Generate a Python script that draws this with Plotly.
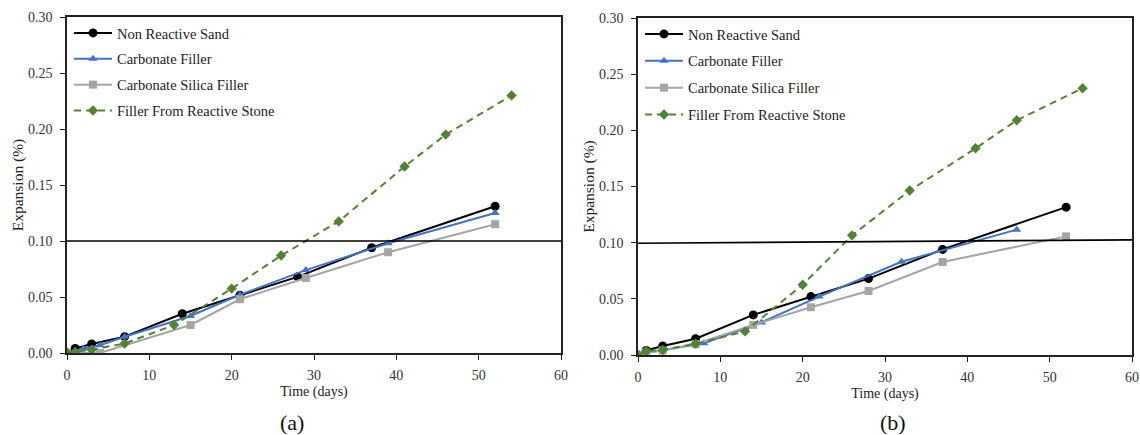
import plotly.graph_objects as go

# ---------------- data ----------------
series_names = ["Non Reactive Sand", "Carbonate Filler", "Carbonate Silica Filler",
                "Filler From Reactive Stone"]

# Panel (a)
a_sand_days = [0, 1, 3, 7, 14, 21, 28, 37, 52]
a_sand_exp = [0.000, 0.004, 0.008, 0.0146, 0.035, 0.0515, 0.068, 0.094, 0.131]
a_carb_days = [0, 2, 4, 7, 15, 21, 29, 39, 52]
a_carb_exp = [0.000, 0.004, 0.007, 0.0145, 0.033, 0.052, 0.074, 0.098, 0.125]
a_silica_days = [0, 4, 15, 21, 29, 39, 52]
a_silica_exp = [0.000, 0.000, 0.025, 0.048, 0.067, 0.090, 0.115]
a_stone_days = [0, 1, 3, 7, 13, 20, 26, 33, 41, 46, 54]
a_stone_exp = [0.000, 0.001, 0.003, 0.0085, 0.025, 0.0575, 0.087, 0.1175, 0.1665, 0.195, 0.230]

# Panel (b)
b_sand_days = [0, 1, 3, 7, 14, 21, 28, 37, 52]
b_sand_exp = [0.000, 0.004, 0.008, 0.0145, 0.0357, 0.052, 0.068, 0.094, 0.1316]
b_carb_days = [0, 1, 8, 15, 22, 32, 46]
b_carb_exp = [0.000, 0.002, 0.0104, 0.029, 0.052, 0.083, 0.1116]
b_silica_days = [0, 1, 3, 7, 14, 21, 28, 37, 52]
b_silica_exp = [0.000, 0.002, 0.004, 0.0098, 0.0268, 0.0425, 0.057, 0.0828, 0.1056]
b_stone_days = [0, 1, 3, 7, 13, 20, 26, 33, 41, 46, 54]
b_stone_exp = [0.000, 0.0035, 0.0045, 0.0100, 0.021, 0.0625, 0.1065, 0.1464, 0.184, 0.209, 0.2375]

limit_a = [0.100, 0.100]
limit_b = [0.0995, 0.1025]

panel_labels = ["(a)", "(b)"]
x_title = "Time (days)"
y_title = "Expansion (%)"

# ---------------- styles ----------------
FONT = "Liberation Serif"
colors = ["#000000", "#4472C4", "#A5A5A5", "#548235"]
symbols = ["circle", "triangle-up", "square", "diamond"]
dashes = ["solid", "solid", "solid", "7px,5px"]

fig = go.Figure()

panels = [
    ("x", "y", "legend", "a",
     [(a_sand_days, a_sand_exp), (a_carb_days, a_carb_exp),
      (a_silica_days, a_silica_exp), (a_stone_days, a_stone_exp)]),
    ("x2", "y2", "legend2", "b",
     [(b_sand_days, b_sand_exp), (b_carb_days, b_carb_exp),
      (b_silica_days, b_silica_exp), (b_stone_days, b_stone_exp)]),
]

for xa, ya, lg, tag, data in panels:
    for i, (d, e) in enumerate(data):
        fig.add_trace(go.Scatter(
            x=d, y=e, name=series_names[i], mode="lines+markers",
            xaxis=xa, yaxis=ya, legend=lg, legendgroup=f"{tag}{i}",
            line=dict(color=colors[i], width=2, dash=dashes[i]),
            marker=dict(color=colors[i], symbol=symbols[i], size=9 if i == 0 else 8),
        ))

# threshold lines at 0.10 %
fig.add_trace(go.Scatter(x=[0, 60], y=limit_a, mode="lines", xaxis="x", yaxis="y",
                         line=dict(color="#000000", width=1.6), showlegend=False,
                         hoverinfo="skip"))
fig.add_trace(go.Scatter(x=[0, 60], y=limit_b, mode="lines", xaxis="x2", yaxis="y2",
                         line=dict(color="#000000", width=1.6), showlegend=False,
                         hoverinfo="skip"))

W, H = 1140, 435
ax_common = dict(showgrid=False, zeroline=False, showline=True, linecolor="#222222",
                 linewidth=1.5, mirror=True, ticks="outside", ticklen=5,
                 tickcolor="#222222", tickwidth=1.2,
                 tickfont=dict(family=FONT, size=14, color="#333333"),
                 automargin=False)

xdom_a = [67 / W, 561 / W]
xdom_b = [638 / W, 1132 / W]
ydom_a = [1 - 353 / H, 1 - 17 / H]
ydom_b = [1 - 355 / H, 1 - 18 / H]

legend_font = dict(family=FONT, size=14.5, color="#222222")
xt = dict(text=x_title, font=dict(family=FONT, size=14), standoff=5)
yt = dict(text=y_title, font=dict(family=FONT, size=15.5), standoff=1)

fig.update_layout(
    width=W, height=H,
    margin=dict(l=0, r=0, t=0, b=0),
    paper_bgcolor="white", plot_bgcolor="white",
    font=dict(family=FONT, size=14, color="#222222"),
    xaxis=dict(domain=xdom_a, range=[0, 60], dtick=10, anchor="y", title=xt,
               ticklabelstandoff=3, **ax_common),
    yaxis=dict(domain=ydom_a, range=[0, 0.30], dtick=0.05, tickformat=".2f", anchor="x",
               title=yt, ticklabelstandoff=5, **ax_common),
    xaxis2=dict(domain=xdom_b, range=[0, 60], dtick=10, anchor="y2", title=xt,
                ticklabelstandoff=3, **ax_common),
    yaxis2=dict(domain=ydom_b, range=[0, 0.30], dtick=0.05, tickformat=".2f", anchor="x2",
                title=yt, ticklabelstandoff=5, **ax_common),
    legend=dict(x=69 / W, y=1 - 17 / H, xanchor="left", yanchor="top",
                bgcolor="rgba(0,0,0,0)", borderwidth=0, tracegroupgap=4,
                font=legend_font, itemwidth=38),
    legend2=dict(x=640 / W, y=1 - 18 / H, xanchor="left", yanchor="top",
                 bgcolor="rgba(0,0,0,0)", borderwidth=0, tracegroupgap=5,
                 font=legend_font, itemwidth=38),
)

fig.add_annotation(text=panel_labels[0], x=292 / W, y=1 - 422 / H, xref="paper", yref="paper",
                   xanchor="center", yanchor="middle", showarrow=False,
                   font=dict(family=FONT, size=22, color="#111111"))
fig.add_annotation(text=panel_labels[1], x=893 / W, y=1 - 422 / H, xref="paper", yref="paper",
                   xanchor="center", yanchor="middle", showarrow=False,
                   font=dict(family=FONT, size=22, color="#111111"))

fig.write_html("out.html", config={"displayModeBar": False},
               post_script="document.body.style.margin='0';")
